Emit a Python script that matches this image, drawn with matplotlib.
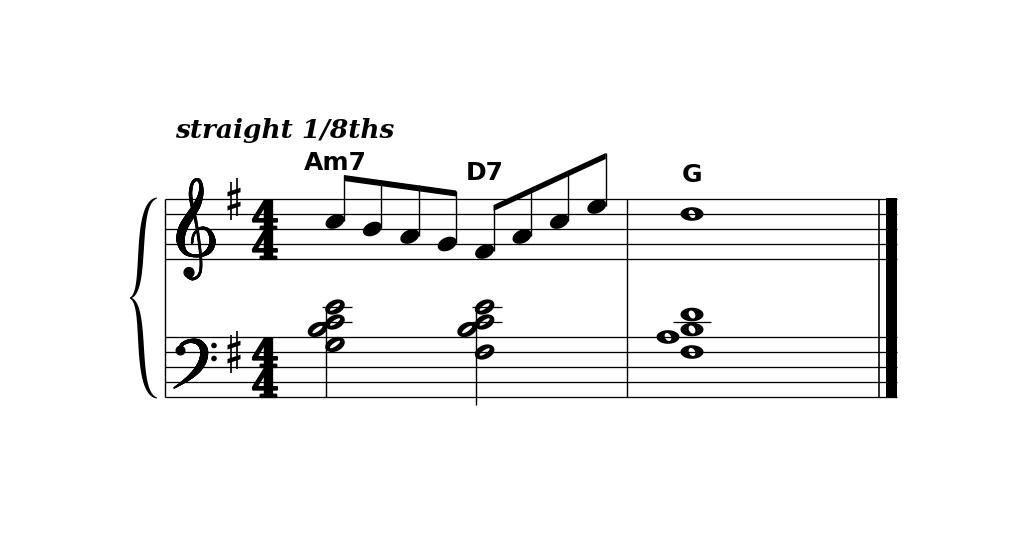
import numpy as np
import matplotlib
matplotlib.use('Agg')
import matplotlib.pyplot as plt
import matplotlib.patheffects as pe
from matplotlib.path import Path
from matplotlib.patches import PathPatch, Polygon, Rectangle, Circle
from matplotlib.collections import LineCollection
from matplotlib.font_manager import FontProperties

# what is written on the page
tempo_text = 'straight 1/8ths'
chord_symbols = ['Am7', 'D7', 'G']
time_signature = ['4', '4']
melody = ['C5', 'B4', 'A4', 'G4', 'F#4', 'A4', 'C5', 'E5']   # eighths, bar 1
beam_groups = [(0, 4), (4, 8)]
treble_bar2 = ['D5']                                          # whole note
bass_chords = [['G3', 'B3', 'C4', 'E4'],
               ['F#3', 'B3', 'C4', 'E4'],
               ['F#3', 'A3', 'B3', 'D4']]
bass_values = ['half', 'half', 'whole']

# layout, in pixels with y going down
W, H = 1024, 536
SP = 15
TREBLE_TOP, BASS_TOP = 199, 337
X_START, X_END = 165, 897
BAR_X = 627
NOTE_X0, NOTE_DX = 335, 37.4
BAR2_X = 692
CHORD_X = [NOTE_X0, NOTE_X0 + 4 * NOTE_DX, BAR2_X]
CHORD_BASE = [170, 180, 182]
KEY_X, TS_X = 234, 265
PX = 0.72   # one pixel in points


def step(p):
    return 'CDEFGAB'.index(p[0]) + 7 * int(p[-1])


def y_treble(p):
    return TREBLE_TOP + 4 * SP - (step(p) - step('E4')) * SP / 2


def y_bass(p):
    return BASS_TOP + 4 * SP - (step(p) - step('G2')) * SP / 2


def ellipse(cx, cy, a, b, ang, n=60):
    t = np.linspace(0, 2 * np.pi, n, endpoint=False)
    ca, sa = np.cos(np.radians(ang)), np.sin(np.radians(ang))
    x, y = a * np.cos(t), b * np.sin(t)
    return np.column_stack([cx + x * ca - y * sa, cy - (x * sa + y * ca)])


def ring(ax, outer, inner):
    inner = inner[::-1]
    verts = np.vstack([outer, outer[:1], inner, inner[:1]])
    codes = ([Path.MOVETO] + [Path.LINETO] * (len(outer) - 1) + [Path.CLOSEPOLY]
             + [Path.MOVETO] + [Path.LINETO] * (len(inner) - 1) + [Path.CLOSEPOLY])
    ax.add_patch(PathPatch(Path(verts, codes), fc='k', ec='none', zorder=3))


def filled_head(ax, x, y):
    ax.add_patch(Polygon(ellipse(x, y, 10, 6.6, 25), closed=True, fc='k', ec='none', zorder=3))


def half_head(ax, x, y):
    ring(ax, ellipse(x, y, 10.3, 6.9, 25), ellipse(x, y, 6.0, 1.8, 35))


def whole_head(ax, x, y):
    ring(ax, ellipse(x, y, 11.5, 6.8, 0), ellipse(x, y, 4.3, 3.0, -60))


def hline(ax, x0, x1, y, w=1.3):
    ax.plot([x0, x1], [y, y], color='k', lw=w * PX, solid_capstyle='butt', zorder=2)


def vline(ax, x, y0, y1, w=1.4):
    ax.plot([x, x], [y0, y1], color='k', lw=w * PX, solid_capstyle='butt', zorder=2)


def catmull(pts, n=14):
    pts = np.asarray(pts, float)
    P = np.vstack([pts[0], pts, pts[-1]])
    out = []
    t = np.linspace(0, 1, n, endpoint=False)[:, None]
    for i in range(len(pts) - 1):
        p0, p1, p2, p3 = P[i], P[i + 1], P[i + 2], P[i + 3]
        out.append(0.5 * (2 * p1 + (p2 - p0) * t + (2 * p0 - 5 * p1 + 4 * p2 - p3) * t ** 2
                          + (3 * p1 - p0 - 3 * p2 + p3) * t ** 3))
    out.append(pts[-1:])
    return np.vstack(out)


def stroke(ax, pts, widths, n=14):
    c = catmull(pts, n)
    w = np.interp(np.linspace(0, len(pts) - 1, len(c)), np.arange(len(pts)), widths)
    segs = np.stack([c[:-1], c[1:]], axis=1)
    ax.add_collection(LineCollection(segs, linewidths=(w[:-1] + w[1:]) / 2 * PX,
                                     colors='k', capstyle='round', joinstyle='round', zorder=3))


def treble_clef(ax):
    pts = [(192, 243), (194, 234), (201, 228), (209, 231), (212.5, 241), (209.5, 250),
           (202, 255), (192, 255.5), (184, 251), (180.5, 240), (183, 228), (190, 216),
           (197, 205), (201, 193), (200.5, 183), (197, 179.5), (192.5, 183), (190.5, 193),
           (192, 205), (196, 222), (199.5, 245), (201, 265), (199, 275), (193, 279), (188, 277)]
    wid = [2.5, 2.5, 2.5, 4.0, 6.5, 6.0, 3.5, 3.0, 5.0, 8.5, 9.0, 8.5, 7.5, 5.0, 3.5,
           3.0, 3.0, 3.5, 3.5, 3.0, 2.8, 2.8, 2.8, 2.8, 2.8]
    stroke(ax, pts, wid)
    ax.add_patch(Circle((189, 272.5), 5.6, fc='k', ec='none', zorder=3))


def bass_clef(ax):
    pts = [(180, 350), (182, 344.5), (190, 341), (199, 342.5), (204, 350), (203, 360),
           (198, 369), (190, 377), (181, 383.5), (174, 388)]
    wid = [3.0, 3.5, 4.0, 6.0, 8.0, 8.0, 7.0, 5.0, 3.0, 1.5]
    stroke(ax, pts, wid)
    ax.add_patch(Circle((180.5, 350.5), 5, fc='k', ec='none', zorder=3))
    for dy in (-6.5, 6.5):
        ax.add_patch(Circle((214, 352 + dy), 2.8, fc='k', ec='none', zorder=3))


def bezier(p0, p1, p2, p3, n=90):
    t = np.linspace(0, 1, n)[:, None]
    return ((1 - t) ** 3 * p0 + 3 * (1 - t) ** 2 * t * p1
            + 3 * (1 - t) * t ** 2 * p2 + t ** 3 * p3)


def brace(ax, x_tip, x_end, y_top, y_bot):
    ym = (y_top + y_bot) / 2
    h = ym - y_top
    c = bezier(np.array([x_end, y_top]), np.array([x_end - 24, y_top + 0.05 * h]),
               np.array([x_end - 9, y_top + 0.95 * h]), np.array([x_tip, ym]))
    d = np.gradient(c, axis=0)
    nrm = np.column_stack([-d[:, 1], d[:, 0]])
    nrm /= np.linalg.norm(nrm, axis=1)[:, None]
    s = np.linspace(0, 1, len(c))
    w = 0.4 + 2.3 * np.sin(np.pi * s) ** 0.8
    upper = np.vstack([c + nrm * w[:, None], (c - nrm * w[:, None])[::-1]])
    lower = upper.copy()
    lower[:, 1] = 2 * ym - lower[:, 1]
    for poly in (upper, lower):
        ax.add_patch(Polygon(poly, closed=True, fc='k', ec='none'))


def sharp(ax, x, y):
    vline(ax, x - 3, y - 17, y + 21, 1.7)
    vline(ax, x + 3, y - 21, y + 17, 1.7)
    for dy in (-7, 7):
        ax.add_patch(Polygon([(x - 6.5, y + dy + 0.0), (x + 6.5, y + dy - 4.3),
                              (x + 6.5, y + dy + 0.2), (x - 6.5, y + dy + 4.5)],
                             closed=True, fc='k', ec='none'))


fig = plt.figure(figsize=(W / 100, H / 100), dpi=100)
ax = fig.add_axes([0, 0, 1, 1])
ax.set_xlim(0, W)
ax.set_ylim(H, 0)
ax.axis('off')

# staves and barlines
for top in (TREBLE_TOP, BASS_TOP):
    for i in range(5):
        hline(ax, X_START, X_END, top + i * SP)
sys_bot = BASS_TOP + 4 * SP
vline(ax, X_START, TREBLE_TOP, sys_bot)
vline(ax, BAR_X, TREBLE_TOP, sys_bot)
vline(ax, 879, TREBLE_TOP, sys_bot, 1.6)
ax.add_patch(Rectangle((886, TREBLE_TOP - 0.6), 11, sys_bot - TREBLE_TOP + 1.2,
                       fc='k', ec='none'))
brace(ax, 130, 157, TREBLE_TOP - 1, sys_bot + 1)

# clefs, key and time signatures
treble_clef(ax)
bass_clef(ax)
sharp(ax, KEY_X, y_treble('F5'))
sharp(ax, KEY_X, y_bass('F3'))

ts_prop = FontProperties(family='DejaVu Serif', weight='bold', size=28)
_, lp_h, lp_d = fig.canvas.get_renderer().get_text_width_height_descent('lp', ts_prop, ismath=False)
asc = lp_h - lp_d
for top in (TREBLE_TOP, BASS_TOP):
    ax.text(TS_X, top + 2 * SP - asc, '\n'.join(time_signature), fontproperties=ts_prop,
            ha='center', va='top', multialignment='center',
            linespacing=(2 * SP - lp_d) / asc,
            path_effects=[pe.withStroke(linewidth=1.6, foreground='k')])

# texts
ax.text(175, 138, tempo_text, fontsize=19, family='DejaVu Serif',
        fontweight='bold', fontstyle='italic', ha='left', va='baseline')
for name, x, yb in zip(chord_symbols, CHORD_X, CHORD_BASE):
    ax.text(x, yb, name, fontsize=18, family='DejaVu Sans', fontweight='bold',
            ha='center', va='baseline')

# melody, bar 1
mx = [NOTE_X0 + i * NOTE_DX for i in range(len(melody))]
my = [y_treble(p) for p in melody]
for a, b in beam_groups:
    xs0, xs1 = mx[a] + 9, mx[b - 1] + 9
    yb0, yb1 = my[a] - 43.5, my[b - 1] - 50.5
    ax.add_patch(Polygon([(xs0, yb0 - 3), (xs1, yb1 - 3), (xs1, yb1 + 3), (xs0, yb0 + 3)],
                         closed=True, fc='k', ec='none', zorder=3))
    for i in range(a, b):
        sx = mx[i] + 9
        ytop = yb0 + (yb1 - yb0) * (sx - xs0) / (xs1 - xs0)
        vline(ax, sx, my[i] - 1, ytop - 3, 1.4)
for x, y in zip(mx, my):
    filled_head(ax, x, y)

# treble bar 2
for p in treble_bar2:
    whole_head(ax, BAR2_X, y_treble(p))

# bass chords
for chord, val, x in zip(bass_chords, bass_values, CHORD_X):
    ys = [y_bass(p) for p in chord]
    steps = [step(p) for p in chord]
    whole = val == 'whole'
    for ls in range(step('C4'), max(steps) + 1, 2):
        ly = y_bass('CDEFGAB'[ls % 7] + str(ls // 7))
        if whole:
            hline(ax, x - 19, x + 19, ly)
        else:
            hline(ax, x - 13, x + 17, ly)
    shift = 24 if whole else 17.5
    for i, y in enumerate(ys):
        left = i + 1 < len(chord) and steps[i + 1] - steps[i] == 1
        hx = x - shift if left else x
        if whole:
            whole_head(ax, hx, y)
        else:
            half_head(ax, hx, y)
    if not whole:
        vline(ax, x - 9, min(ys), max(ys) + 52.5, 1.4)

fig.savefig('out.png', dpi=100, facecolor='white')
